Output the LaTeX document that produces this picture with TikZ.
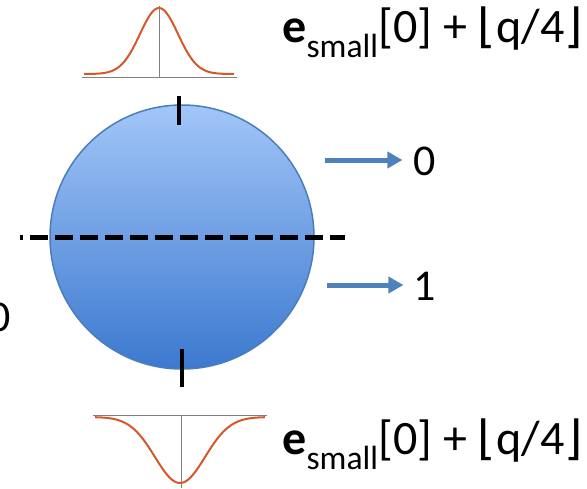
\documentclass[tikz,border=0pt]{standalone}
\usepackage{fontspec}
\setmainfont{Carlito}
\newfontfamily\bracketfont{DejaVu Sans}
\usepackage{xcolor}
\usetikzlibrary{arrows.meta}

\definecolor{discTop}{HTML}{A2C6F8}
\definecolor{discBottom}{HTML}{3C79CF}
\definecolor{discEdge}{HTML}{4A7EBB}
\definecolor{curveRed}{HTML}{D6582A}
\definecolor{arrowBlue}{HTML}{4F81BD}

\newcommand{\ebound}{\textbf{e}\textsubscript{small}[0] + {\bracketfont\fontsize{47}{50}\selectfont ⌊}q/4{\bracketfont\fontsize{47}{50}\selectfont ⌋}}

\begin{document}
\begin{tikzpicture}[x=1pt, y=-1pt, line width=0.8pt,
  big/.style={font=\fontsize{44}{50}\selectfont, inner sep=0pt},
  bound/.style={font=\fontsize{48}{54}\selectfont, inner sep=0pt, anchor=west},
  tick/.style={line width=4.5pt, black},
  bluearrow/.style={-{Triangle[length=15pt, width=16pt]}, line width=5pt, arrowBlue},
  axis/.style={gray, line width=1pt},
  curve/.style={curveRed, line width=2pt}]
\useasboundingbox (0,0) rectangle (587,488);

% the disc
\node[circle, draw=discEdge, line width=1.5pt, minimum size=264pt, top color=discTop, bottom color=discBottom] (disc) at (182,237) {};
\draw[tick] (179,96) -- (179,125);
\draw[tick] (182,349) -- (182,387);
\draw[line width=5pt, dash pattern=on 18pt off 7pt, dash phase=15pt] (20,237) -- (345,237);

% upper and lower curve
\draw[axis] (82,77) -- (237,77);
\draw[axis] (159,6) -- (159,77);
\draw[curve] plot[domain=-75:75, samples=80, smooth] ({159+\x}, {74-66*exp(-(\x*\x)/(2*19*19))});
\draw[axis] (93,415) -- (267,415);
\draw[axis] (181,415) -- (181,488);
\draw[curve] plot[domain=-85:85, samples=80, smooth] ({180+\x}, {417+66*exp(-(\x*\x)/(2*25*25))});

\node[bound] (upper) at (282,32) {\ebound};
\node[bound] (lower) at (282,444) {\ebound};

% outputs
\node[big] (zero) at (425,161) {0};
\node[big] (one) at (425,286) {1};
\node[big] (left) at (0,317) {0};
\coordinate (s0) at (325,160);
\coordinate (s1) at (327,285);
\draw[bluearrow, shorten >=11pt] (s0) -- (s0 -| zero.west);
\draw[bluearrow, shorten >=10pt] (s1) -- (s1 -| one.west);
\end{tikzpicture}
\end{document}
